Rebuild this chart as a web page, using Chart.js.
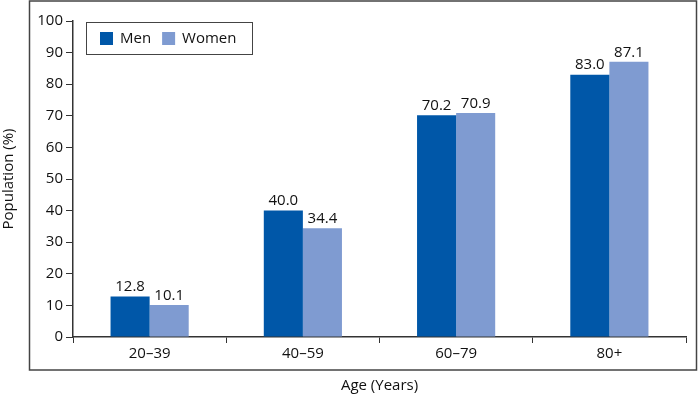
<!DOCTYPE html>
<html>
<head>
<meta charset="utf-8">
<script src="https://cdn.jsdelivr.net/npm/chart.js@4/dist/chart.umd.min.js"></script>
<style>
  html, body { margin: 0; padding: 0; background: #fff; }
  #wrap { width: 700px; height: 401px; }
</style>
</head>
<body>
<div id="wrap"><canvas id="ageChart"></canvas></div>
<script>
const categories = ['20\u201339', '40\u201359', '60\u201379', '80+'];
const menValues = [12.8, 40.0, 70.2, 83.0];
const womenValues = [10.1, 34.4, 70.9, 87.1];
const yTicks = [0, 10, 20, 30, 40, 50, 60, 70, 80, 90, 100];

const FONT = '"Open Sans", "Noto Sans", sans-serif';
const TEXT = '#111';

// frame around the whole plot
const framePlugin = {
    id: 'frame',
    afterDraw(chart) {
        const ctx = chart.ctx;
        ctx.save();
        ctx.strokeStyle = '#444';
        ctx.lineWidth = 1.5;
        ctx.strokeRect(29.5, 1, 667, 369);
        ctx.restore();
    }
};

// value labels above bars
const valuePlugin = {
    id: 'values',
    afterDatasetsDraw(chart) {
        const ctx = chart.ctx;
        ctx.save();
        ctx.font = '15px ' + FONT;
        ctx.fillStyle = TEXT;
        ctx.textAlign = 'center';
        ctx.textBaseline = 'bottom';
        chart.data.datasets.forEach((ds, i) => {
            chart.getDatasetMeta(i).data.forEach((bar, j) => {
                ctx.fillText(ds.data[j].toFixed(1), bar.x, bar.y - 2);
            });
        });
        ctx.restore();
    }
};

// boxed legend inside the plot
const legendPlugin = {
    id: 'boxLegend',
    afterDraw(chart) {
        const ctx = chart.ctx;
        ctx.save();
        ctx.strokeStyle = '#444';
        ctx.lineWidth = 1;
        ctx.strokeRect(86.5, 22.5, 166, 32);
        ctx.font = '15px ' + FONT;
        ctx.textBaseline = 'middle';
        ctx.textAlign = 'left';
        let x = 100;
        chart.data.datasets.forEach(ds => {
            ctx.fillStyle = ds.backgroundColor;
            ctx.fillRect(x, 32, 13, 13);
            ctx.fillStyle = TEXT;
            ctx.fillText(ds.label, x + 20, 39);
            x += 20 + ctx.measureText(ds.label).width + 11;
        });
        ctx.restore();
    }
};

new Chart(document.getElementById('ageChart'), {
    type: 'bar',
    data: {
        labels: categories,
        datasets: [
            { label: 'Men', data: menValues, backgroundColor: '#0057a8' },
            { label: 'Women', data: womenValues, backgroundColor: '#7f9bd1' }
        ]
    },
    options: {
        responsive: true,
        maintainAspectRatio: false,
        animation: false,
        layout: { padding: { top: 21, right: 14, left: 0, bottom: 0 } },
        datasets: { bar: { categoryPercentage: 0.51, barPercentage: 1.0 } },
        plugins: {
            legend: { display: false },
            tooltip: { enabled: false }
        },
        scales: {
            x: {
                afterFit: s => { s.height = 64; },
                grid: { display: true, drawOnChartArea: false, drawTicks: true, tickLength: 6, color: '#333', offset: true },
                border: { display: true, color: '#333', width: 1.5 },
                ticks: { color: TEXT, font: { family: FONT, size: 15 }, padding: 2 },
                title: { display: true, text: 'Age (Years)', color: TEXT, font: { family: FONT, size: 15 }, padding: { top: 0, bottom: 6 } }
            },
            y: {
                min: 0,
                max: 100,
                afterFit: s => { s.width = 73; },
                afterBuildTicks: s => { s.ticks = yTicks.map(v => ({ value: v })); },
                grid: { display: true, drawOnChartArea: false, drawTicks: true, tickLength: 7, color: '#333' },
                border: { display: true, color: '#333', width: 1.5 },
                ticks: { color: TEXT, font: { family: FONT, size: 15 }, padding: 3 },
                title: { display: true, text: 'Population (%)', color: TEXT, font: { family: FONT, size: 15 }, padding: { top: 0, bottom: 0 } }
            }
        }
    },
    plugins: [framePlugin, valuePlugin, legendPlugin]
});
</script>
</body>
</html>
